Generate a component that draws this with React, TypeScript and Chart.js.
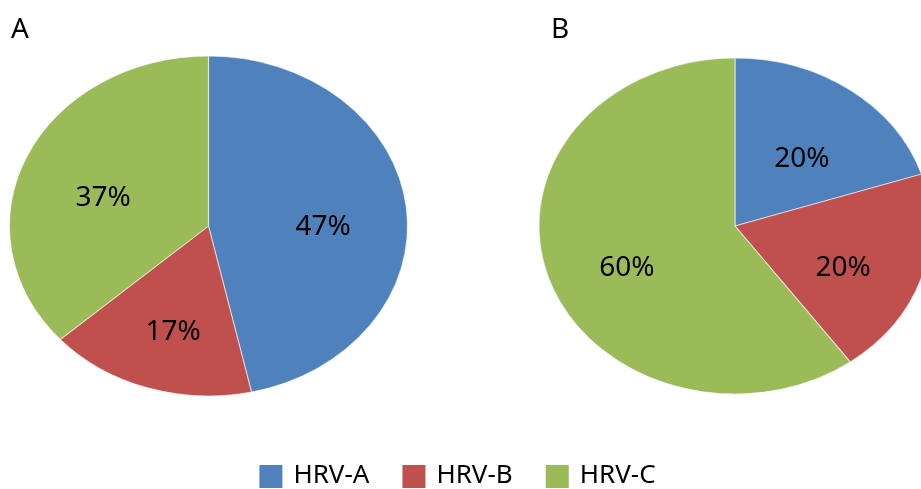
import React, { useEffect, useRef } from "react";
import { Chart, registerables } from "chart.js";

Chart.register(...registerables);

// Virus type shares (%) for the two panels
const categories = ["HRV-A", "HRV-B", "HRV-C"];
const panelNames = ["A", "B"];
const sharesA = [47, 17, 37];
const sharesB = [20, 20, 60];
const sliceColors = ["#4F81BD", "#C0504D", "#9BBB59"];

const WIDTH = 921;
const HEIGHT = 489;
const FONT = '"Noto Sans", "Open Sans", sans-serif';

type PanelLayout = {
  cx: number;
  cy: number;
  ry: number;
  rx: number;
  nameX: number;
  nameY: number;
  legend: boolean;
};

const layoutA: PanelLayout = { cx: 208.5, cy: 226, ry: 170, rx: 199, nameX: 11, nameY: 38, legend: false };
const layoutB: PanelLayout = { cx: 735, cy: 226, ry: 168, rx: 196, nameX: 551, nameY: 38, legend: true };

// Draws the pie stretched horizontally into an ellipse, then the value labels,
// the panel letter and (optionally) the shared legend.
const ellipsePie = {
  id: "ellipsePie",
  beforeDatasetsDraw(chart: any, _args: any, opts: any) {
    const { ctx, chartArea } = chart;
    const cx = (chartArea.left + chartArea.right) / 2;
    ctx.save();
    ctx.translate(cx, 0);
    ctx.scale(opts.stretch, 1);
    ctx.translate(-cx, 0);
  },
  afterDatasetsDraw(chart: any) {
    chart.ctx.restore();
  },
  afterDraw(chart: any, _args: any, opts: any) {
    const { ctx } = chart;
    const values = chart.data.datasets[0].data as number[];
    const meta = chart.getDatasetMeta(0);
    ctx.save();
    ctx.fillStyle = "#000000";
    ctx.font = `28px ${FONT}`;
    ctx.textAlign = "center";
    ctx.textBaseline = "middle";
    meta.data.forEach((el: any, i: number) => {
      const { x, y, startAngle, endAngle, outerRadius } = el.getProps(
        ["x", "y", "startAngle", "endAngle", "outerRadius"],
        true
      );
      const mid = (startAngle + endAngle) / 2;
      const r = outerRadius * opts.labelRadius;
      ctx.fillText(
        `${values[i]}%`,
        x + Math.cos(mid) * r * opts.stretch,
        y + Math.sin(mid) * r + opts.labelShift
      );
    });

    ctx.textAlign = "left";
    ctx.textBaseline = "alphabetic";
    ctx.font = `28px ${FONT}`;
    ctx.fillText(opts.name, opts.nameX, opts.nameY);

    if (opts.legend) {
      const labels = chart.data.labels as string[];
      const colors = chart.data.datasets[0].backgroundColor as string[];
      ctx.font = `26px ${FONT}`;
      const box = 23;
      const gapIn = 11;
      const gapOut = 33;
      const widths = labels.map((t) => ctx.measureText(t).width);
      const total =
        widths.reduce((s, w) => s + box + gapIn + w, 0) + gapOut * (labels.length - 1);
      let x = chart.width / 2 - 3 - total / 2;
      const boxTop = 465;
      const baseline = 483;
      labels.forEach((t, i) => {
        ctx.fillStyle = colors[i];
        ctx.fillRect(x, boxTop, box, box);
        ctx.fillStyle = "#000000";
        ctx.fillText(t, x + box + gapIn, baseline);
        x += box + gapIn + widths[i] + gapOut;
      });
    }
    ctx.restore();
  },
};

function PiePanel({ values, layout, name }: { values: number[]; layout: PanelLayout; name: string }) {
  const ref = useRef<HTMLCanvasElement | null>(null);
  useEffect(() => {
    const canvas = ref.current;
    if (!canvas) return;
    const padX = 2 * layout.cx - WIDTH;
    const padY = 2 * layout.cy - HEIGHT;
    const chart = new Chart(canvas, {
      type: "pie",
      data: {
        labels: categories,
        datasets: [
          {
            data: values,
            backgroundColor: sliceColors,
            borderColor: "rgba(255,255,255,0.55)",
            borderWidth: 1,
            radius: layout.ry,
            clip: false,
          } as any,
        ],
      },
      plugins: [ellipsePie],
      options: {
        responsive: false,
        animation: false,
        devicePixelRatio: 1,
        events: [],
        layout: {
          padding: {
            left: padX > 0 ? padX : 0,
            right: padX < 0 ? -padX : 0,
            top: padY > 0 ? padY : 0,
            bottom: padY < 0 ? -padY : 0,
          },
        },
        plugins: {
          legend: { display: false },
          tooltip: { enabled: false },
          ellipsePie: {
            stretch: layout.rx / layout.ry,
            labelRadius: 0.58,
            labelShift: 12,
            name,
            nameX: layout.nameX,
            nameY: layout.nameY,
            legend: layout.legend,
          },
        } as any,
      },
    });
    return () => chart.destroy();
  }, [values, layout, name]);

  return (
    <canvas
      ref={ref}
      width={WIDTH}
      height={HEIGHT}
      style={{ position: "absolute", left: 0, top: 0, width: WIDTH, height: HEIGHT }}
    />
  );
}

export default function App() {
  return (
    <div
      style={{
        position: "fixed",
        left: 0,
        top: 0,
        width: WIDTH,
        height: HEIGHT,
        overflow: "hidden",
        background: "#ffffff",
      }}
    >
      <PiePanel values={sharesA} layout={layoutA} name={panelNames[0]} />
      <PiePanel values={sharesB} layout={layoutB} name={panelNames[1]} />
    </div>
  );
}
